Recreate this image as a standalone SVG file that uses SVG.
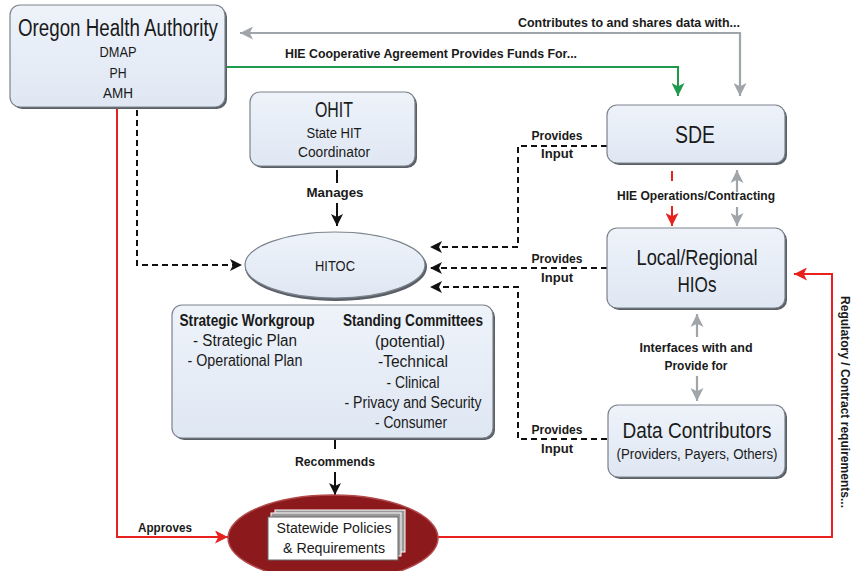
<svg xmlns="http://www.w3.org/2000/svg" width="854" height="571" viewBox="0 0 854 571">
<style>
text{font-family:"Liberation Sans Narrow","Liberation Sans",Arial,sans-serif;fill:#1a1a1a;text-anchor:middle}
.lbl{font-weight:bold;font-size:13.5px}
.box{fill:url(#bg);stroke:#7c838c;stroke-width:1.2}
.sh{fill:#5a5f66}
.t1{font-size:23px}
.t2{font-size:15.5px}
.hd{font-weight:bold;font-size:16px}
.bd{font-size:16px}
.dash{fill:none;stroke:#111;stroke-width:2;stroke-dasharray:6 4}
.blk{fill:none;stroke:#111;stroke-width:2}
.red{fill:none;stroke:#e8211f;stroke-width:2}
.gry{fill:none;stroke:#a0a5aa;stroke-width:2.2}
.grn{fill:none;stroke:#1f9a4c;stroke-width:2}
</style>
<defs>
<linearGradient id="bg" x1="0" y1="0" x2="0" y2="1">
<stop offset="0" stop-color="#eef3fa"/>
<stop offset="1" stop-color="#dfe7f3"/>
</linearGradient>
<marker id="ab" viewBox="0 0 12 12" refX="12" refY="6" markerWidth="12" markerHeight="12" markerUnits="userSpaceOnUse" orient="auto"><path d="M0,0 L12,6 L0,12 L3,6 z" fill="#111"/></marker>
<marker id="ar" viewBox="0 0 12 12" refX="12" refY="6" markerWidth="13" markerHeight="13" markerUnits="userSpaceOnUse" orient="auto"><path d="M0,0 L12,6 L0,12 L3,6 z" fill="#e8211f"/></marker>
<marker id="ag" viewBox="0 0 12 12" refX="12" refY="6" markerWidth="13" markerHeight="13" markerUnits="userSpaceOnUse" orient="auto-start-reverse"><path d="M0,0 L12,6 L0,12 L3,6 z" fill="#a0a5aa"/></marker>
<marker id="agr" viewBox="0 0 12 12" refX="12" refY="6" markerWidth="13" markerHeight="13" markerUnits="userSpaceOnUse" orient="auto"><path d="M0,0 L12,6 L0,12 L3,6 z" fill="#1f9a4c"/></marker>
</defs>
<rect width="854" height="571" fill="#fff"/>

<g id="connectors">
<path class="gry" d="M240,33 L740,33 L740,96" marker-start="url(#ag)" marker-end="url(#ag)"/>
<text class="lbl" x="629" y="27" textLength="222" lengthAdjust="spacingAndGlyphs">Contributes to and shares data with...</text>
<path class="grn" d="M225,67 L678,67 L678,96" marker-end="url(#agr)"/>
<text class="lbl" x="431" y="58" textLength="292" lengthAdjust="spacingAndGlyphs">HIE Cooperative Agreement Provides Funds For...</text>

<path class="dash" d="M137,110 L137,265 L242,265" marker-end="url(#ab)"/>
<path class="dash" d="M607,146 L518,146 L518,247 L430,247" marker-end="url(#ab)"/>
<path class="dash" d="M607,268 L430,268" marker-end="url(#ab)"/>
<path class="dash" d="M607,439 L518,439 L518,287 L430,287" marker-end="url(#ab)"/>
<text class="lbl" x="557" y="140" textLength="51" lengthAdjust="spacingAndGlyphs">Provides</text>
<text class="lbl" x="557" y="158" textLength="32" lengthAdjust="spacingAndGlyphs">Input</text>
<text class="lbl" x="557" y="263" textLength="51" lengthAdjust="spacingAndGlyphs">Provides</text>
<text class="lbl" x="557" y="282" textLength="32" lengthAdjust="spacingAndGlyphs">Input</text>
<text class="lbl" x="557" y="434" textLength="51" lengthAdjust="spacingAndGlyphs">Provides</text>
<text class="lbl" x="557" y="453" textLength="32" lengthAdjust="spacingAndGlyphs">Input</text>

<path class="blk" d="M337,170 L337,183"/>
<text class="lbl" x="335" y="197" textLength="57" lengthAdjust="spacingAndGlyphs">Manages</text>
<path class="blk" d="M337,203 L337,226" marker-end="url(#ab)"/>

<path class="red" d="M672,171 L672,181"/>
<path class="red" d="M672,206 L672,226" marker-end="url(#ar)"/>
<path class="gry" d="M737,192 L737,170" marker-end="url(#ag)"/>
<path class="gry" d="M737,207 L737,226" marker-end="url(#ag)"/>
<text class="lbl" x="696" y="200" textLength="158" lengthAdjust="spacingAndGlyphs">HIE Operations/Contracting</text>

<path class="gry" d="M697,337 L697,314" marker-end="url(#ag)"/>
<path class="gry" d="M697,376 L697,401" marker-end="url(#ag)"/>
<text class="lbl" x="696" y="352" textLength="113" lengthAdjust="spacingAndGlyphs">Interfaces with and</text>
<text class="lbl" x="696" y="370" textLength="63" lengthAdjust="spacingAndGlyphs">Provide for</text>

<path class="blk" d="M335,440 L335,449"/>
<text class="lbl" x="335" y="466" textLength="80" lengthAdjust="spacingAndGlyphs">Recommends</text>
<path class="blk" d="M335,472 L335,495" marker-end="url(#ab)"/>

<path class="red" d="M117,108 L117,537 L228,537" marker-end="url(#ar)"/>
<text class="lbl" x="165" y="532" textLength="54" lengthAdjust="spacingAndGlyphs">Approves</text>
<path class="red" d="M437,537 L832,537 L832,274 L794,274" marker-end="url(#ar)"/>
<text class="lbl" transform="translate(841,402) rotate(90)" textLength="212" lengthAdjust="spacingAndGlyphs">Regulatory / Contract requirements...</text>
</g>

<g id="oha">
<rect class="sh" x="12" y="7" width="215" height="102" rx="10"/>
<rect class="box" x="10" y="5" width="215" height="102" rx="10"/>
<text class="t1" x="118" y="36" textLength="200" lengthAdjust="spacingAndGlyphs">Oregon Health Authority</text>
<text class="t2" x="118" y="57" textLength="37" lengthAdjust="spacingAndGlyphs">DMAP</text>
<text class="t2" x="118" y="78" textLength="17" lengthAdjust="spacingAndGlyphs">PH</text>
<text class="t2" x="118" y="98" textLength="30" lengthAdjust="spacingAndGlyphs">AMH</text>
</g>

<g id="ohit">
<rect class="sh" x="252" y="94" width="165" height="74" rx="10"/>
<rect class="box" x="250" y="92" width="165" height="74" rx="10"/>
<text x="334" y="117" style="font-size:22px" textLength="38" lengthAdjust="spacingAndGlyphs">OHIT</text>
<text class="t2" x="334" y="138" textLength="55" lengthAdjust="spacingAndGlyphs">State HIT</text>
<text class="t2" x="334" y="157" textLength="72" lengthAdjust="spacingAndGlyphs">Coordinator</text>
</g>

<g id="hitoc">
<ellipse cx="336" cy="267" rx="91" ry="34" fill="#5a5f66"/>
<ellipse cx="335" cy="265" rx="90" ry="33" class="box"/>
<text class="t2" x="335" y="271" textLength="40" lengthAdjust="spacingAndGlyphs">HITOC</text>
</g>

<g id="workgroup">
<rect class="sh" x="174" y="307" width="321" height="133" rx="10"/>
<rect class="box" x="172" y="305" width="321" height="133" rx="10"/>
<text class="hd" x="247" y="326" textLength="135" lengthAdjust="spacingAndGlyphs">Strategic Workgroup</text>
<text class="bd" x="245" y="346" textLength="104" lengthAdjust="spacingAndGlyphs">- Strategic Plan</text>
<text class="bd" x="245" y="366" textLength="115" lengthAdjust="spacingAndGlyphs">- Operational Plan</text>
<text class="hd" x="413" y="326" textLength="140" lengthAdjust="spacingAndGlyphs">Standing Committees</text>
<text class="bd" x="410" y="347" textLength="70" lengthAdjust="spacingAndGlyphs">(potential)</text>
<text class="bd" x="413" y="367" textLength="70" lengthAdjust="spacingAndGlyphs">-Technical</text>
<text class="bd" x="413" y="388" textLength="53" lengthAdjust="spacingAndGlyphs">- Clinical</text>
<text class="bd" x="413" y="408" textLength="137" lengthAdjust="spacingAndGlyphs">- Privacy and Security</text>
<text class="bd" x="411" y="428" textLength="72" lengthAdjust="spacingAndGlyphs">- Consumer</text>
</g>

<g id="sde">
<rect class="sh" x="609" y="107" width="178" height="58" rx="10"/>
<rect class="box" x="607" y="105" width="178" height="58" rx="10"/>
<text class="t1" x="695" y="143" textLength="40" lengthAdjust="spacingAndGlyphs">SDE</text>
</g>

<g id="hios">
<rect class="sh" x="609" y="230" width="178" height="80" rx="10"/>
<rect class="box" x="607" y="228" width="178" height="80" rx="10"/>
<text x="697" y="265" style="font-size:22px" textLength="121" lengthAdjust="spacingAndGlyphs">Local/Regional</text>
<text x="697" y="292" style="font-size:22px" textLength="39" lengthAdjust="spacingAndGlyphs">HIOs</text>
</g>

<g id="data">
<rect class="sh" x="610" y="407" width="177" height="72" rx="10"/>
<rect class="box" x="608" y="405" width="177" height="72" rx="10"/>
<text x="697" y="438" style="font-size:22px" textLength="149" lengthAdjust="spacingAndGlyphs">Data Contributors</text>
<text class="t2" x="697" y="459" textLength="161" lengthAdjust="spacingAndGlyphs">(Providers, Payers, Others)</text>
</g>

<g id="policies">
<ellipse cx="333" cy="538" rx="105" ry="43" fill="#8c1a1d" stroke="#b34a4c" stroke-width="1.5"/>
<rect x="275" y="510" width="130" height="42" fill="#9a9a9a" stroke="#fff" stroke-width="1"/>
<rect x="271" y="513" width="130" height="43" fill="#9a9a9a" stroke="#fff" stroke-width="1"/>
<rect x="268" y="517" width="130" height="43" fill="#fff" stroke="#666" stroke-width="1"/>
<text class="t2" x="334" y="533" textLength="115" lengthAdjust="spacingAndGlyphs">Statewide Policies</text>
<text class="t2" x="334" y="553" textLength="102" lengthAdjust="spacingAndGlyphs">&amp; Requirements</text>
</g>
</svg>
